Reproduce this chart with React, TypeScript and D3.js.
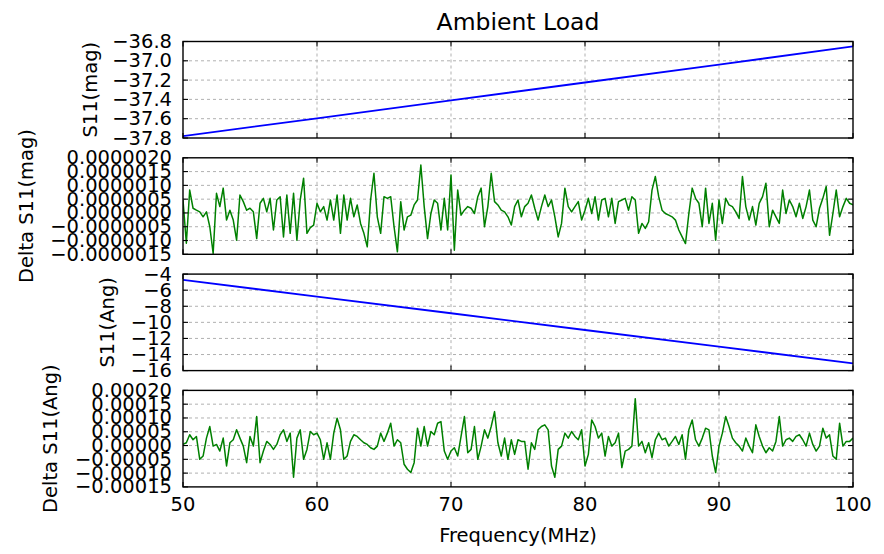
import React from "react";
import * as d3 from "d3";

// ---------- data ----------
const chartTitle = "Ambient Load";
const xAxisLabel = "Frequency(MHz)";
const xTickValues = [50, 60, 70, 80, 90, 100];
const freqStart = 50;
const freqStep = 0.25; // MHz between delta samples
const freqEnd = 100;

const s11MagFreq = [50, 60, 70, 80, 90, 100];
const s11Mag = [-37.78, -37.597, -37.41, -37.225, -37.04, -36.85];

const s11AngFreq = [50, 60, 70, 80, 90, 100];
const s11Ang = [-4.72, -6.8, -8.87, -10.95, -13.02, -15.1];

// Delta S11(mag), in units of 1e-7
const deltaMagE7 = [
  4.7, -11, 8.3, 1.7, 1, 0.4, -1.4, 0.4, -5, -14.7,
  7.1, 2.3, 9, -2.6, 1, -2.6, -9.9, 6.5, 4.1, 1,
  1.7, 0.4, -9.3, 3.5, 5.3, 0.4, 5.3, -6.2, 4.7, 5.9,
  -8.7, 6.5, -7.4, 7.1, -9.9, 4.7, 12.6, -7.4, -5.3, -4.4,
  3.5, 0.4, 2.3, -2.6, 4.7, -2.6, 6.5, -7.4, 6.5, -2.6,
  5.3, -1.4, 2.9, -3.8, -7.4, -12.3, 4.7, 14.4, -1.4, -7.4,
  5.9, 5.3, 5.9, -5, -14.1, 4.1, -6.2, -1.4, -0.8, 2.9,
  4.7, 17.4, 2.3, -9.3, -0.2, 4.7, 3.5, -6.2, 5.3, -6.2,
  13.8, -13.5, 8.3, -0.8, 1, 2.3, 1.7, -0.2, 5.9, 9,
  -5, 2.3, 14.4, 4.1, 2.9, 1, 0.4, -1.4, -4.4, 2.3,
  4.7,
  -1.4, 2.3, 3.5, 6.5, 1.7, -2.6, 2.3, 6.5, 2.3,
  4.7, -1.4, -8.7, -3.8, 9, 2.3, 0.4, 2.3, 4.1, -2.6,
  1, 5.3, -0.2, 5.9, -2.6, 4.7, 5.3, -1.4, 5.3, -3.8,
  4.1, 4.7, 5.3, 1, 5.9, 4.7, -7.4, -3.8, -5.6, -3.2,
  8.3, 13.2, 5.9, 1, -0.2, -0.8, -1.4, -2.6, -6.2, -8.7,
  -11.1, -0.2, 9, 5.3, 3.5, -5, 9, -3.8, 3.5, -9.9,
  4.7, -3.8, 5.3, 2.9, 2.3, 0.4, -2, 13.2, 2.3, -2.6,
  2.3, -4.4, 3.5, 5.9, 10.8, -5, 1, -1.4, -3.8, 8.3,
  -0.2, 4.7, 2.3, -1.4, 3.5, -2, 2.3, 8.3, -2.6, -5,
  1.7, 5.3, 9.6, -8.1, -0.2, 8.3, -1.4, 2.3, 5.3, 3.5,
  2.9,
];

// Delta S11(Ang), in units of 1e-5
const deltaAngE5 = [
  0.4, 1, 3.9, 2.1, 3.3, -5, -3.8, 2.7, 6.9, -0.2,
  0.4, -2, 2.7, -7.4, 1, 2.1, 5.7, 2.7, -0.2, -6.2,
  3.3, -0.2, 10.5, -6.2, -2, 1.5, 0.4, -1.4, 0.4, 3.9,
  5.7, 1.5, 4.5, -11.5, 2.7, 5.7, -5, -1.4, 5.1, 3.9,
  4.5, 2.1, -5, 1, -5, 4.5, 9.9, 5.7, -5, -3.8,
  1.5, 3.9, 3.3, 2.1, 1, 0.4, -0.8, -1.4, -0.2, 4.5,
  1.5, 4.5, 8.1, -0.2, 2.1, 1, -6.8, -8.6, -9.8, -6.2,
  6.3, -0.2, 6.9, -0.2, 5.1, 3.9, 8.1, 8.7, -2, -5,
  -2, -0.8, -3.8, 3.3, 10.5, -2.6, -1.4, 6.9, -5, -0.2,
  5.7, 2.7, 6.9, 12.3, 1, -3.8, 2.7, -5, 2.1, -3.2,
  2.1,
  1.5, 1.5, -8.6, 1, -1.4, 5.7, 6.9, 7.5, 5.7,
  -7.4, -11.5, -1.4, -0.2, 4.5, 2.7, 5.1, 3.3, 2.1, 5.7,
  -7.4, -3.2, 9.3, 6.9, 2.7, 4.5, -3.8, 3.3, -0.2, 1,
  4.5, -8, -2, -1.4, -0.2, 17, -0.2, 1.5, -2.6, 1,
  -4.4, 2.1, 4.5, 2.1, 2.7, -0.2, 1.5, 3.3, 0.4, 3.9,
  -5, 5.7, 9.3, 2.1, -0.2, 2.7, 6.3, 5.7, -3.8, -9.8,
  -0.2, 4.5, 10.5, 6.9, 2.7, 1, -0.2, -2, 2.7, -0.2,
  -2.6, 7.5, 3.3, -0.2, -2.6, -0.8, -2, 1.5, 10.5, -0.2,
  2.1, 2.7, 1.5, 3.3, 3.9, 2.1, -0.2, 4.5, 0.4, -2,
  -0.2, 6.3, 2.7, 3.9, -3.8, -5, 8.1, -0.2, 1.5, 1.5,
  2.7,
];

const magTicks = [-37.8, -37.6, -37.4, -37.2, -37.0, -36.8];
const dMagTicks = [-0.0000015, -0.000001, -0.0000005, 0, 0.0000005, 0.000001, 0.0000015, 0.000002];
const angTicks = [-16, -14, -12, -10, -8, -6, -4];
const dAngTicks = [-0.00015, -0.0001, -0.00005, 0, 0.00005, 0.0001, 0.00015, 0.0002];

const panelLabels = ["S11(mag)", "Delta S11(mag)", "S11(Ang)", "Delta S11(Ang)"];

// ---------- layout ----------
const W = 884;
const H = 554;
const left = 183;
const right = 853;
const panelTops = [41.5, 157.8, 274.1, 390.4];
const panelH = 96.5;
const labelX = [97, 33, 114, 57];
const FONT = "'DejaVu Sans', 'Bitstream Vera Sans', sans-serif";
const FS = 19.5;
const TICK = 5;

const deltaFreq = d3.range(deltaMagE7.length).map((i) => freqStart + i * freqStep);

type Panel = {
  xs: number[];
  ys: number[];
  ticks: number[];
  fmt: (v: number) => string;
  color: string;
  width: number;
};

const panels: Panel[] = [
  { xs: s11MagFreq, ys: s11Mag, ticks: magTicks, fmt: d3.format(".1f"), color: "#0000ff", width: 1.8 },
  { xs: deltaFreq, ys: deltaMagE7.map((v) => v * 1e-7), ticks: dMagTicks, fmt: d3.format(".7f"), color: "#008000", width: 1.5 },
  { xs: s11AngFreq, ys: s11Ang, ticks: angTicks, fmt: d3.format("d"), color: "#0000ff", width: 1.8 },
  { xs: deltaFreq, ys: deltaAngE5.map((v) => v * 1e-5), ticks: dAngTicks, fmt: d3.format(".5f"), color: "#008000", width: 1.5 },
];

const x = d3.scaleLinear().domain([freqStart, freqEnd]).range([left, right]);

export default function App() {
  return (
    <svg
      width={W}
      height={H}
      style={{ position: "absolute", left: 0, top: 0, background: "#fff" }}
      fontFamily={FONT}
    >
      <rect x={0} y={0} width={W} height={H} fill="#fff" />
      <text x={(left + right) / 2} y={30} textAnchor="middle" fontSize={23.5} fill="#000">
        {chartTitle}
      </text>
      {panels.map((p, pi) => {
        const top = panelTops[pi];
        const bottom = top + panelH;
        const y = d3
          .scaleLinear()
          .domain([p.ticks[0], p.ticks[p.ticks.length - 1]])
          .range([bottom, top]);
        const line = d3
          .line<number>()
          .x((_, i) => x(p.xs[i]))
          .y((d) => y(d));
        const clipId = `clip${pi}`;
        return (
          <g key={pi}>
            <defs>
              <clipPath id={clipId}>
                <rect x={left} y={top} width={right - left} height={panelH} />
              </clipPath>
            </defs>
            {/* grid */}
            {xTickValues.slice(1, -1).map((t) => (
              <line
                key={"gx" + t}
                x1={x(t)}
                x2={x(t)}
                y1={top}
                y2={bottom}
                stroke="#a8a8a8"
                strokeWidth={0.9}
                strokeDasharray="3,3"
              />
            ))}
            {p.ticks.slice(1, -1).map((t) => (
              <line
                key={"gy" + t}
                x1={left}
                x2={right}
                y1={y(t)}
                y2={y(t)}
                stroke="#a8a8a8"
                strokeWidth={0.9}
                strokeDasharray="3,3"
              />
            ))}
            {/* data */}
            <path
              d={line(p.ys) || ""}
              fill="none"
              stroke={p.color}
              strokeWidth={p.width}
              strokeLinejoin="round"
              clipPath={`url(#${clipId})`}
            />
            {/* ticks */}
            {xTickValues.map((t) => (
              <g key={"tx" + t}>
                <line x1={x(t)} x2={x(t)} y1={bottom} y2={bottom - TICK} stroke="#000" strokeWidth={1.1} />
                <line x1={x(t)} x2={x(t)} y1={top} y2={top + TICK} stroke="#000" strokeWidth={1.1} />
              </g>
            ))}
            {p.ticks.map((t) => (
              <g key={"ty" + t}>
                <line x1={left} x2={left + TICK} y1={y(t)} y2={y(t)} stroke="#000" strokeWidth={1.1} />
                <line x1={right} x2={right - TICK} y1={y(t)} y2={y(t)} stroke="#000" strokeWidth={1.1} />
                <text
                  x={left - 11}
                  y={y(t)}
                  textAnchor="end"
                  dominantBaseline="central"
                  fontSize={FS}
                  fill="#000"
                >
                  {p.fmt(t)}
                </text>
              </g>
            ))}
            {/* frame */}
            <rect
              x={left}
              y={top}
              width={right - left}
              height={panelH}
              fill="none"
              stroke="#000"
              strokeWidth={1.4}
            />
            <text
              transform={`translate(${labelX[pi]},${(top + bottom) / 2}) rotate(-90)`}
              textAnchor="middle"
              fontSize={FS}
              fill="#000"
            >
              {panelLabels[pi]}
            </text>
          </g>
        );
      })}
      {xTickValues.map((t) => (
        <text key={"xl" + t} x={x(t)} y={511} textAnchor="middle" fontSize={FS} fill="#000">
          {t}
        </text>
      ))}
      <text x={(left + right) / 2} y={542} textAnchor="middle" fontSize={FS} fill="#000">
        {xAxisLabel}
      </text>
    </svg>
  );
}
